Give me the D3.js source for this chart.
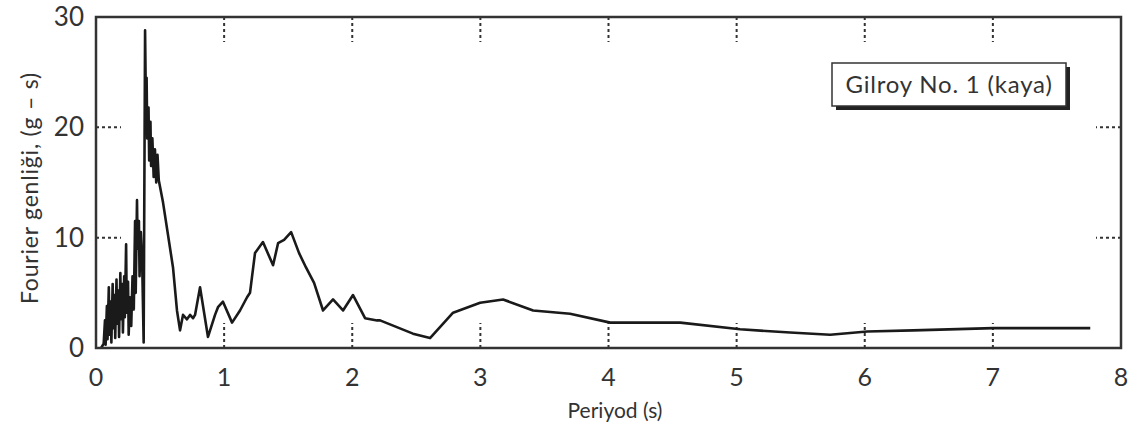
<!DOCTYPE html>
<html>
<head>
<meta charset="utf-8">
<script src="https://cdn.jsdelivr.net/npm/d3@7"></script>
<style>
  body { margin: 0; background: #fff; }
  text { font-family: Lato, "Noto Sans", sans-serif; fill: #333; }
</style>
</head>
<body>
<div id="chart"></div>
<script>
// period (s) and Fourier amplitude (g-s)
const periods = [0.04, 0.06, 0.07, 0.075, 0.085, 0.09, 0.10, 0.105, 0.115, 0.12, 0.13, 0.135, 0.145, 0.15,
  0.16, 0.165, 0.175, 0.18, 0.19, 0.195, 0.205, 0.21, 0.22, 0.225, 0.235, 0.24, 0.25, 0.255, 0.265, 0.275,
  0.285, 0.295, 0.305, 0.31, 0.32, 0.325, 0.335, 0.34, 0.35, 0.36, 0.372, 0.383, 0.39, 0.395, 0.40, 0.41,
  0.415, 0.425, 0.43, 0.44, 0.45, 0.46, 0.47, 0.48, 0.49, 0.523, 0.601, 0.632, 0.656, 0.679, 0.710, 0.734,
  0.757, 0.773, 0.812, 0.874, 0.929, 0.952, 0.991, 1.062, 1.124, 1.179, 1.202, 1.241, 1.303, 1.382, 1.421,
  1.468, 1.523, 1.585, 1.639, 1.702, 1.772, 1.850, 1.928, 2.006, 2.100, 2.194, 2.217, 2.474, 2.607, 2.787,
  2.998, 3.177, 3.412, 3.700, 4.014, 4.560, 5.027, 5.417, 5.730, 6.019, 6.378, 7.002, 7.760];
const amplitudes = [0, 0.4, 2.5, 0.3, 3.8, 0.8, 5.5, 1.2, 4.2, 0.5, 5.8, 1.8, 4.8, 0.9,
  6.2, 2.2, 5.2, 1.0, 6.8, 2.6, 5.8, 1.4, 6.5, 2.8, 9.4, 3.2, 6.0, 1.2, 4.6, 2.0,
  6.5, 3.5, 11.5, 5.0, 13.4, 9.0, 11.5, 6.5, 10.5, 8.0, 0.5, 28.8, 21.5, 24.5, 19.0, 21.8,
  17.0, 20.5, 16.5, 19.0, 15.5, 18.0, 15.0, 17.5, 15.2, 13.2, 7.3, 3.4, 1.6, 3.0, 2.6, 3.0,
  2.7, 3.0, 5.5, 1.0, 3.0, 3.7, 4.2, 2.3, 3.4, 4.6, 5.0, 8.6, 9.6, 7.5, 9.5,
  9.8, 10.5, 8.6, 7.3, 5.9, 3.4, 4.4, 3.4, 4.8, 2.7, 2.5, 2.5, 1.3, 0.9, 3.2,
  4.1, 4.4, 3.4, 3.1, 2.3, 2.3, 1.7, 1.4, 1.2, 1.5, 1.6, 1.8, 1.8];

const xTicks = [0, 1, 2, 3, 4, 5, 6, 7, 8];
const yTicks = [0, 10, 20, 30];
const stationLabel = "Gilroy No. 1 (kaya)";

const width = 1128, height = 431;
const margin = { top: 17, right: 7, bottom: 83, left: 96 };
const plotW = width - margin.left - margin.right;
const plotH = height - margin.top - margin.bottom;

const svg = d3.select("#chart").append("svg")
  .attr("width", width)
  .attr("height", height);

const x = d3.scaleLinear().domain([0, 8]).range([0, plotW]);
const y = d3.scaleLinear().domain([0, 30]).range([plotH, 0]);

const g = svg.append("g")
  .attr("transform", `translate(${margin.left},${margin.top})`);

// dashed tick marks on all four sides
const tickLen = 25;
const inner = xTicks.slice(1, -1);
const innerY = yTicks.slice(1, -1);
const dash = "3,3";

g.selectAll(".xb").data(inner).enter().append("line")
  .attr("x1", d => x(d)).attr("x2", d => x(d))
  .attr("y1", plotH).attr("y2", plotH - tickLen)
  .attr("stroke", "#333").attr("stroke-width", 2).attr("stroke-dasharray", dash);
g.selectAll(".xt").data(inner).enter().append("line")
  .attr("x1", d => x(d)).attr("x2", d => x(d))
  .attr("y1", 0).attr("y2", tickLen)
  .attr("stroke", "#333").attr("stroke-width", 2).attr("stroke-dasharray", dash);
g.selectAll(".yl").data(innerY).enter().append("line")
  .attr("y1", d => y(d)).attr("y2", d => y(d))
  .attr("x1", 0).attr("x2", tickLen)
  .attr("stroke", "#333").attr("stroke-width", 2).attr("stroke-dasharray", dash);
g.selectAll(".yr").data(innerY).enter().append("line")
  .attr("y1", d => y(d)).attr("y2", d => y(d))
  .attr("x1", plotW).attr("x2", plotW - tickLen)
  .attr("stroke", "#333").attr("stroke-width", 2).attr("stroke-dasharray", dash);

// the spectrum
const data = periods.map((p, i) => ({ p, a: amplitudes[i] }));
g.append("path")
  .datum(data)
  .attr("fill", "none")
  .attr("stroke", "#1a1a1a")
  .attr("stroke-width", 2.6)
  .attr("stroke-linejoin", "round")
  .attr("d", d3.line().x(d => x(d.p)).y(d => y(d.a)));

// frame
g.append("rect")
  .attr("width", plotW).attr("height", plotH)
  .attr("fill", "none").attr("stroke", "#333").attr("stroke-width", 2.5);

// tick labels
g.selectAll(".xl").data(xTicks).enter().append("text")
  .attr("x", d => x(d)).attr("y", plotH + 38)
  .attr("text-anchor", "middle")
  .attr("font-size", 25)
  .text(d => d);
g.selectAll(".ylab").data(yTicks).enter().append("text")
  .attr("x", -12).attr("y", d => y(d) + 9)
  .attr("text-anchor", "end")
  .attr("font-size", 26)
  .text(d => d);

// axis titles
svg.append("text")
  .attr("x", 615).attr("y", 418)
  .attr("text-anchor", "middle")
  .attr("font-size", 21)
  .text("Periyod (s)");
svg.append("text")
  .attr("transform", "translate(38,188) rotate(-90)")
  .attr("text-anchor", "middle")
  .attr("font-size", 23)
  .attr("letter-spacing", 0.8)
  .text("Fourier genliği, (g – s)");

// label box with drop shadow
const bx = 832, by = 63, bw = 234, bh = 43;
svg.append("rect")
  .attr("x", bx + 4).attr("y", by + 4).attr("width", bw).attr("height", bh)
  .attr("fill", "#222");
svg.append("rect")
  .attr("x", bx).attr("y", by).attr("width", bw).attr("height", bh)
  .attr("fill", "#fff").attr("stroke", "#333").attr("stroke-width", 1.5);
svg.append("text")
  .attr("x", bx + bw / 2).attr("y", by + 30)
  .attr("text-anchor", "middle")
  .attr("font-size", 24)
  .attr("letter-spacing", 0.8)
  .text(stationLabel);
</script>
</body>
</html>
